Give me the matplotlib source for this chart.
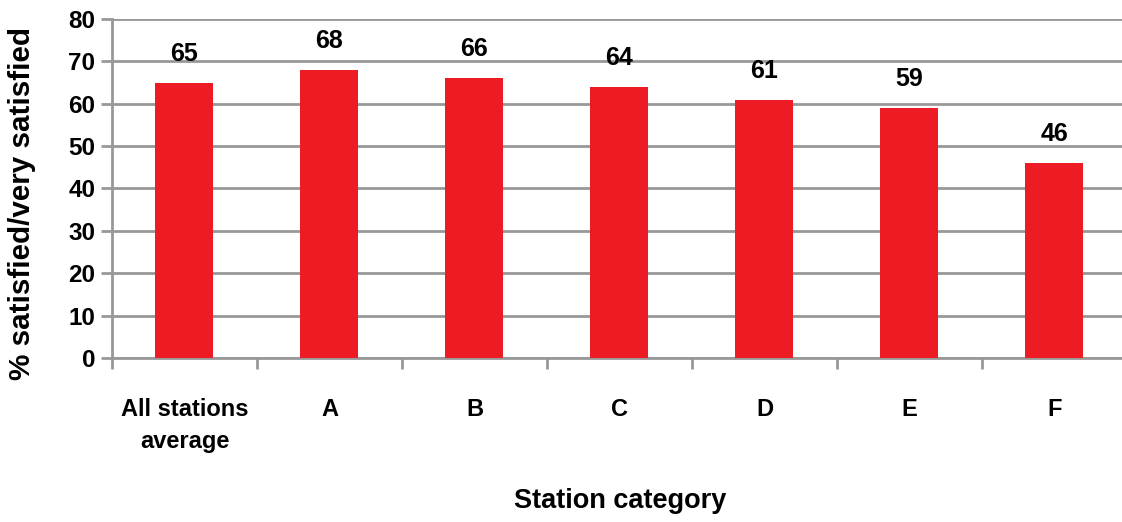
import matplotlib.pyplot as plt
from matplotlib.transforms import offset_copy

categories = ["All stations\naverage", "A", "B", "C", "D", "E", "F"]
satisfied = [65, 68, 66, 64, 61, 59, 46]
y_ticks = [0, 10, 20, 30, 40, 50, 60, 70, 80]

BAR_RED = "#ED1C24"
GRID_GREY = "#989898"
LABEL_FONT = ["Liberation Sans Narrow", "Liberation Sans"]

fig = plt.figure(figsize=(11.22, 5.22), dpi=100)
ax = fig.add_axes([0.0998, 0.3142, 0.9046, 0.6494])

x = list(range(len(categories)))
ax.bar(x, satisfied, width=0.4, color=BAR_RED, zorder=3)

ax.set_xlim(-0.5, len(categories) - 0.5)
ax.set_ylim(0, 80)
ax.set_yticks(y_ticks)
ax.yaxis.grid(True, color=GRID_GREY, linewidth=2, zorder=0)
ax.set_axisbelow(True)

for side in ["top", "right"]:
    ax.spines[side].set_visible(False)
for side in ["left", "bottom"]:
    ax.spines[side].set_color(GRID_GREY)
    ax.spines[side].set_linewidth(2)

# y ticks
ax.tick_params(axis="y", direction="out", length=8, width=2, color=GRID_GREY, pad=4)
for lab in ax.get_yticklabels():
    lab.set_fontfamily("Liberation Sans")
    lab.set_fontweight("bold")
    lab.set_fontsize(17.5)

# x ticks at category boundaries, labels centered
ax.set_xticks([i - 0.5 for i in range(len(categories) + 1)])
ax.set_xticklabels([])
ax.set_xticks(x, minor=True)
ax.set_xticklabels(categories, minor=True, fontfamily=LABEL_FONT, fontweight="bold",
                   fontsize=17, linespacing=1.5)
ax.tick_params(axis="x", which="major", direction="out", length=8, width=2, color=GRID_GREY)
ax.tick_params(axis="x", which="minor", length=0, pad=29)

# value labels above bars
for xi, v in zip(x, satisfied):
    ax.text(xi, v, str(v), ha="center", va="bottom", fontfamily=LABEL_FONT,
            fontweight="bold", fontsize=18,
            transform=offset_copy(ax.transData, fig=fig, x=0, y=17, units="dots"))

fig.text(22 / 1122, 1 - 203 / 522, "% satisfied/very satisfied", rotation=90,
         ha="center", va="center", fontfamily="Liberation Sans",
         fontweight="bold", fontsize=21.3)
fig.text(0.553, 0.040, "Station category", ha="center", va="center",
         fontfamily="Liberation Sans", fontweight="bold", fontsize=19.5)

fig.savefig("out.png", dpi=100)
